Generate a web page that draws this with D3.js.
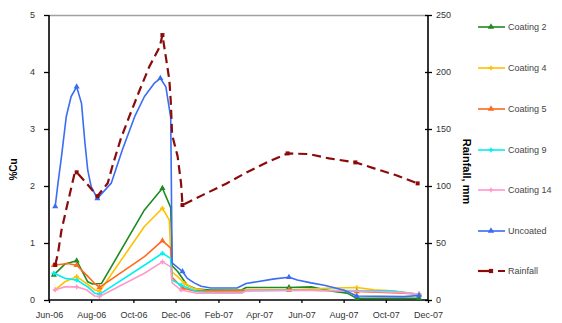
<!DOCTYPE html>
<html><head><meta charset="utf-8">
<script src="https://cdn.jsdelivr.net/npm/d3@7"></script>
<style>body{margin:0;background:#fff}svg{display:block;font-family:"Liberation Sans",Arial,sans-serif}</style>
</head><body><svg id="c" width="562" height="323"></svg>
<script>
const tickDates = ["2006-06-01","2006-08-01","2006-10-01","2006-12-01","2007-02-01","2007-04-01","2007-06-01","2007-08-01","2007-10-01","2007-12-01"];
const tickLabels = ["Jun-06","Aug-06","Oct-06","Dec-06","Feb-07","Apr-07","Jun-07","Aug-07","Oct-07","Dec-07"];
const cuTicks = [0,1,2,3,4,5];
const rainTicks = [0,50,100,150,200,250];
const seriesNames = ["Coating 2","Coating 4","Coating 5","Coating 9","Coating 14","Uncoated","Rainfall"];

const coating2 = [["2006-06-08",0.44],["2006-06-24",0.63],["2006-07-11",0.69],["2006-07-27",0.32],["2006-08-03",0.28],["2006-08-16",0.29],["2006-10-17",1.58],["2006-11-12",1.96],["2006-11-24",1.62],["2006-11-26",0.6],["2006-12-04",0.5],["2006-12-18",0.26],["2007-01-01",0.19],["2007-01-21",0.175],["2007-03-07",0.18],["2007-03-13",0.22],["2007-05-14",0.22],["2007-06-15",0.23],["2007-07-18",0.15],["2007-08-06",0.12],["2007-08-20",0.03],["2007-11-18",0.03]];
const coating4 = [["2006-06-10",0.18],["2006-06-24",0.32],["2006-07-11",0.41],["2006-07-25",0.29],["2006-08-06",0.18],["2006-08-13",0.15],["2006-10-17",1.29],["2006-11-12",1.61],["2006-11-22",1.40],["2006-11-25",0.5],["2006-12-04",0.41],["2006-12-14",0.29],["2006-12-28",0.2],["2007-01-15",0.16],["2007-05-14",0.18],["2007-07-18",0.21],["2007-08-20",0.22],["2007-09-14",0.18],["2007-10-09",0.16],["2007-11-18",0.1]];
const coating5 = [["2006-06-08",0.61],["2006-06-28",0.64],["2006-07-11",0.61],["2006-07-25",0.44],["2006-08-06",0.29],["2006-08-13",0.22],["2006-10-17",0.76],["2006-11-12",1.04],["2006-11-24",0.91],["2006-11-26",0.4],["2006-12-11",0.21],["2006-12-28",0.16],["2007-03-07",0.16],["2007-03-13",0.17],["2007-05-14",0.17],["2007-06-15",0.17],["2007-08-20",0.15],["2007-10-27",0.12],["2007-11-18",0.1]];
const coating9 = [["2006-06-08",0.47],["2006-06-24",0.38],["2006-07-11",0.35],["2006-07-27",0.23],["2006-08-06",0.12],["2006-08-13",0.1],["2006-10-17",0.61],["2006-11-12",0.82],["2006-11-24",0.73],["2006-11-26",0.35],["2006-12-09",0.26],["2007-01-01",0.15],["2007-01-21",0.13],["2007-03-07",0.13],["2007-03-13",0.16],["2007-06-15",0.17],["2007-09-14",0.16],["2007-10-09",0.16],["2007-11-18",0.1]];
const coating14 = [["2006-06-10",0.18],["2006-06-24",0.23],["2006-07-11",0.23],["2006-07-25",0.18],["2006-08-06",0.07],["2006-08-13",0.06],["2006-10-17",0.47],["2006-11-12",0.67],["2006-11-24",0.58],["2006-11-26",0.3],["2006-12-09",0.175],["2007-01-01",0.12],["2007-03-07",0.12],["2007-03-13",0.16],["2007-06-15",0.17],["2007-09-14",0.15],["2007-10-27",0.13],["2007-11-18",0.1]];
const uncoated = [["2006-06-10",1.64],["2006-06-14",2.05],["2006-06-19",2.51],["2006-06-26",3.22],["2006-07-03",3.57],["2006-07-11",3.74],["2006-07-18",3.45],["2006-07-23",2.75],["2006-07-27",2.28],["2006-08-01",1.99],["2006-08-10",1.78],["2006-08-30",2.05],["2006-09-15",2.63],["2006-10-03",3.22],["2006-10-17",3.57],["2006-10-31",3.8],["2006-11-09",3.89],["2006-11-17",3.74],["2006-11-24",3.2],["2006-11-26",0.65],["2006-12-11",0.5],["2006-12-18",0.38],["2006-12-28",0.3],["2007-01-07",0.24],["2007-01-21",0.21],["2007-02-28",0.21],["2007-03-13",0.29],["2007-04-23",0.37],["2007-05-14",0.40],["2007-05-26",0.35],["2007-06-15",0.30],["2007-07-04",0.26],["2007-08-02",0.17],["2007-08-20",0.07],["2007-10-27",0.06],["2007-11-18",0.08]];
const rainfall = [["2006-06-10",30.7],["2006-06-14",41],["2006-06-19",61],["2006-06-28",85],["2006-07-08",111],["2006-07-11",112],["2006-07-23",104],["2006-08-10",91],["2006-08-25",102.6],["2006-08-31",116],["2006-09-13",141.8],["2006-09-25",160.8],["2006-10-10",184],["2006-10-24",204.6],["2006-11-08",222],["2006-11-12",232.4],["2006-11-17",213],["2006-11-22",193],["2006-11-24",175],["2006-11-26",145],["2006-12-04",126],["2006-12-09",102],["2006-12-11",83.3],["2007-01-09",92],["2007-02-12",102],["2007-03-13",111.7],["2007-04-11",120.4],["2007-05-12",128.6],["2007-06-12",128],["2007-07-11",124.2],["2007-08-18",120.7],["2007-09-14",115.5],["2007-10-15",109.6],["2007-11-16",102.3]];
const markerDates = ["2006-06-10","2006-07-11","2006-08-10","2006-11-12","2006-12-11","2007-05-14","2007-08-20","2007-11-18"];

const parse = d3.timeParse("%Y-%m-%d");
const svg = d3.select("#c");
const L = 49, R = 428, T = 15, B = 300;
const x = d3.scaleTime().domain([parse("2006-06-01"), parse("2007-12-01")]).range([L, R]);
const y = d3.scaleLinear().domain([0, 5]).range([B, T]);
const y2 = d3.scaleLinear().domain([0, 250]).range([B, T]);

const series = [
  {name: seriesNames[0], data: coating2, color: "#1f8a1f", sym: d3.symbolTriangle, axis: y},
  {name: seriesNames[1], data: coating4, color: "#ffc000", sym: d3.symbolCross, axis: y},
  {name: seriesNames[2], data: coating5, color: "#ff6a1a", sym: d3.symbolTriangle, axis: y},
  {name: seriesNames[3], data: coating9, color: "#00f0f0", sym: d3.symbolCross, axis: y},
  {name: seriesNames[4], data: coating14, color: "#ff99cc", sym: d3.symbolCross, axis: y},
  {name: seriesNames[5], data: uncoated, color: "#3a6cf4", sym: d3.symbolTriangle, axis: y},
  {name: seriesNames[6], data: rainfall, color: "#8b0a0a", sym: d3.symbolSquare, axis: y2, dash: "9,5"}
];

// frame top
svg.append("line").attr("x1", L).attr("x2", R).attr("y1", T + 0.5).attr("y2", T + 0.5).attr("stroke", "#a0a0a0").attr("stroke-width", 1.5);

// axes
const axL = svg.append("g").attr("transform", `translate(${L},0)`)
  .call(d3.axisLeft(y).tickValues(cuTicks).tickSize(5).tickPadding(9).tickFormat(d3.format("d")));
const axR = svg.append("g").attr("transform", `translate(${R},0)`)
  .call(d3.axisRight(y2).tickValues(rainTicks).tickSize(4).tickPadding(4).tickFormat(d3.format("d")));
axR.selectAll(".tick line").attr("x1", -3);
const axB = svg.append("g").attr("transform", `translate(0,${B})`)
  .call(d3.axisBottom(x).tickValues(tickDates.map(parse)).tickSize(3).tickPadding(9).tickFormat((d, i) => tickLabels[i]));
[axL, axR, axB].forEach(a => {
  a.select(".domain").attr("stroke", "#000").attr("stroke-width", 1.6);
  a.selectAll(".tick line").attr("stroke", "#000").attr("stroke-width", 1.3);
  a.selectAll("text").attr("fill", "#333").style("font-size", "9px").style("font-family", "'Liberation Sans',Arial,sans-serif");
});
axL.select(".domain").attr("d", `M0,${T}V${B}`);
axR.select(".domain").attr("d", `M0,${T}V${B}`);
axB.select(".domain").attr("d", `M${L},0H${R}`);

// axis titles
svg.append("text").attr("transform", `translate(17,${(T + B) / 2 + 12}) rotate(-90)`).attr("text-anchor", "middle")
  .style("font-size", "10px").style("font-weight", "bold").text("%Cu");
svg.append("text").attr("transform", `translate(463,${(T + B) / 2 + 14}) rotate(90)`).attr("text-anchor", "middle")
  .style("font-size", "11px").style("font-weight", "bold").text("Rainfall, mm");

// lines
const mk = series.map(s => {
  const pts = s.data.map(d => ({date: parse(d[0]), v: d[1]}));
  return Object.assign({}, s, {pts});
});
mk.forEach(s => {
  const line = d3.line().x(d => x(d.date)).y(d => s.axis(d.v)).curve(d3.curveLinear);
  svg.append("path").datum(s.pts).attr("d", line).attr("fill", "none")
    .attr("stroke", s.color).attr("stroke-width", s.dash ? 2.2 : 1.6)
    .attr("stroke-dasharray", s.dash || null).attr("stroke-linejoin", "round");
  const marks = [];
  markerDates.map(parse).forEach(md => {
    let best = null, bd = Infinity;
    s.pts.forEach(p => { const dd = Math.abs(p.date - md) / 864e5; if (dd < bd) { bd = dd; best = p; } });
    if (best && bd <= 4) marks.push(best);
  });
  svg.append("g").selectAll("path").data(marks).join("path")
    .attr("transform", d => `translate(${x(d.date)},${s.axis(d.v)})`)
    .attr("d", d3.symbol().type(s.sym).size(s.sym === d3.symbolCross ? 12 : 16))
    .attr("fill", s.color);
});

// legend
const legY = [27, 68, 109, 150, 190, 231, 271];
const leg = svg.append("g");
mk.forEach((s, i) => {
  const g = leg.append("g").attr("transform", `translate(478,${legY[i]})`);
  if (s.dash) {
    g.append("line").attr("x1", 0).attr("x2", 13).attr("stroke", s.color).attr("stroke-width", 2.2);
    g.append("line").attr("x1", 17).attr("x2", 27).attr("stroke", s.color).attr("stroke-width", 2.2).attr("stroke-dasharray", "0,3,6");
  } else {
    g.append("line").attr("x1", 0).attr("x2", 27).attr("stroke", s.color).attr("stroke-width", 1.6);
  }
  g.append("path").attr("transform", "translate(13,0)")
    .attr("d", d3.symbol().type(s.sym).size(s.sym === d3.symbolCross ? 12 : 18)).attr("fill", s.color);
  g.append("text").attr("x", 30).attr("y", 3).style("font-size", "9px").attr("fill", "#444").text(s.name);
});
</script></body></html>
